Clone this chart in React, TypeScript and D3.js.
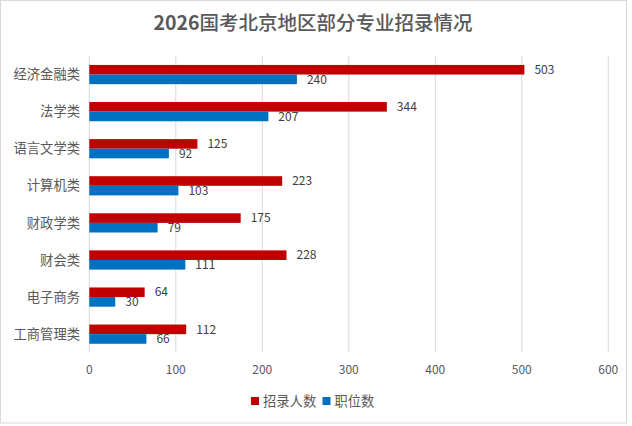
import { useEffect, useRef } from 'react';
import * as d3 from 'd3';

const categories = ['经济金融类', '法学类', '语言文学类', '计算机类', '财政学类', '财会类', '电子商务', '工商管理类'];
const recruitCounts = [503, 344, 125, 223, 175, 228, 64, 112];
const positionCounts = [240, 207, 92, 103, 79, 111, 30, 66];
const seriesNames = ['招录人数', '职位数'];
const seriesColors = ['#c00000', '#0070c0'];
const xTicks = [0, 100, 200, 300, 400, 500, 600];

const FONT = '"Noto Sans CJK SC", "Noto Sans", sans-serif';

export default function App() {
  const svgRef = useRef<SVGSVGElement>(null);

  useEffect(() => {
    if (!svgRef.current) return;
    const svg = d3.select(svgRef.current);
    svg.selectAll('*').remove();

    const width = 632;
    const height = 426;
    const plot = { left: 89.3, right: 608.3, top: 56, bottom: 352.7 };

    // chart border
    svg.append('rect')
      .attr('x', 0.5).attr('y', 0.5)
      .attr('width', 626).attr('height', 422.5)
      .attr('fill', '#fff')
      .attr('stroke', '#d9d9d9');

    // title: bold digits, slightly lighter Chinese
    const title = svg.append('text')
      .attr('x', 313).attr('y', 30)
      .attr('text-anchor', 'middle')
      .attr('font-family', FONT)
      .attr('font-size', 19.5)
      .attr('fill', '#595959');
    title.append('tspan').attr('font-weight', 700).text('2026');
    title.append('tspan').attr('font-weight', 500).text('国考北京地区部分专业招录情况');

    const x = d3.scaleLinear().domain([0, 600]).range([plot.left, plot.right]);
    const y = d3.scaleBand<string>().domain(categories).range([plot.top, plot.bottom]).padding(0);
    const inner = d3.scaleBand<string>().domain(seriesNames).range([0, y.bandwidth()]).paddingInner(0).paddingOuter(0.93);

    // gridlines
    svg.append('g')
      .selectAll('line')
      .data(xTicks)
      .enter().append('line')
      .attr('x1', d => x(d)).attr('x2', d => x(d))
      .attr('y1', plot.top).attr('y2', plot.bottom)
      .attr('stroke', '#d9d9d9')
      .attr('stroke-width', 1);

    // tick labels
    svg.append('g')
      .selectAll('text')
      .data(xTicks)
      .enter().append('text')
      .attr('x', d => x(d))
      .attr('y', 370)
      .attr('dy', '0.35em')
      .attr('text-anchor', 'middle')
      .attr('font-family', FONT)
      .attr('font-size', 12)
      .attr('fill', '#595959')
      .text(d => d);

    // category labels
    svg.append('g')
      .selectAll('text')
      .data(categories)
      .enter().append('text')
      .attr('x', 80)
      .attr('y', d => y(d)! + y.bandwidth() / 2)
      .attr('dy', '0.35em')
      .attr('text-anchor', 'end')
      .attr('font-family', FONT)
      .attr('font-size', 13.3)
      .attr('fill', '#595959')
      .text(d => d);

    const seriesValues = [recruitCounts, positionCounts];

    seriesNames.forEach((name, si) => {
      const rows = categories.map((c, i) => ({ c, v: seriesValues[si][i] }));
      const g = svg.append('g');
      g.selectAll('rect')
        .data(rows)
        .enter().append('rect')
        .attr('x', x(0))
        .attr('y', d => y(d.c)! + inner(name)!)
        .attr('width', d => x(d.v) - x(0))
        .attr('height', inner.bandwidth())
        .attr('fill', seriesColors[si]);

      g.selectAll('text')
        .data(rows)
        .enter().append('text')
        .attr('x', d => x(d.v) + 10)
        .attr('y', d => y(d.c)! + inner(name)! + inner.bandwidth() / 2)
        .attr('dy', '0.35em')
        .attr('font-family', FONT)
        .attr('font-size', 12)
        .attr('fill', '#404040')
        .text(d => d.v);
    });

    // legend
    const legendItems = [
      { name: seriesNames[0], color: seriesColors[0], x: 251 },
      { name: seriesNames[1], color: seriesColors[1], x: 322.5 },
    ];
    const legend = svg.append('g');
    legendItems.forEach(item => {
      legend.append('rect')
        .attr('x', item.x).attr('y', 397)
        .attr('width', 8).attr('height', 8)
        .attr('fill', item.color);
      legend.append('text')
        .attr('x', item.x + 12)
        .attr('y', 401.5)
        .attr('dy', '0.35em')
        .attr('font-family', FONT)
        .attr('font-size', 13.3)
        .attr('fill', '#595959')
        .text(item.name);
    });

    svg.attr('width', width).attr('height', height);
  }, []);

  return (
    <svg
      ref={svgRef}
      width={632}
      height={426}
      style={{ position: 'absolute', left: 0, top: 0, background: '#fff' }}
    />
  );
}
